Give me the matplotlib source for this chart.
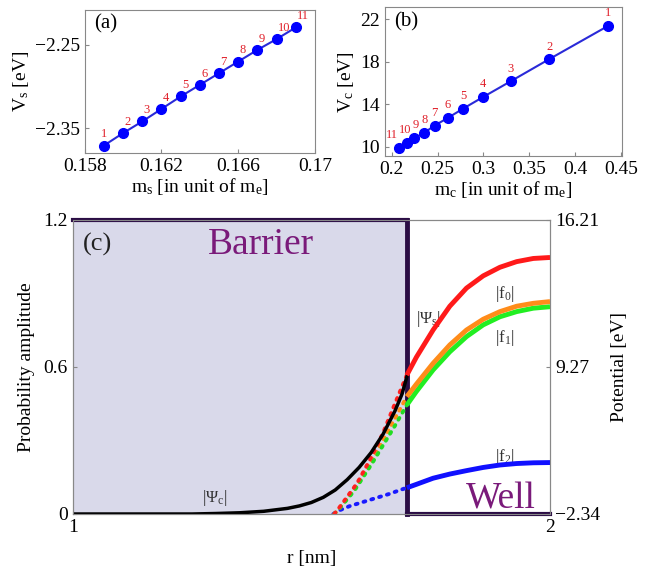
import numpy as np
import matplotlib
matplotlib.use('Agg')
import matplotlib.pyplot as plt

plt.rcParams['font.family'] = ['Liberation Serif', 'DejaVu Serif']
plt.rcParams['mathtext.fontset'] = 'custom'
plt.rcParams['mathtext.rm'] = 'Liberation Serif'
plt.rcParams['mathtext.it'] = 'Liberation Serif:italic'

# (a) surface potential vs m_s
ms = [0.159, 0.160, 0.161, 0.162, 0.163, 0.164, 0.165, 0.166, 0.167, 0.168, 0.169]
vs = [-2.371, -2.356, -2.342, -2.327, -2.312, -2.298, -2.284, -2.270, -2.256, -2.243, -2.229]

# (b) core potential vs m_c
mc = [0.4354, 0.3715, 0.3296, 0.2996, 0.2777, 0.2609, 0.2467, 0.2354, 0.2248, 0.2164, 0.2084]
vc = [21.37, 18.25, 16.17, 14.69, 13.59, 12.71, 12.00, 11.32, 10.82, 10.35, 9.91]
point_ids = [str(i) for i in range(1, 12)]

# (c) wavefunctions
r_core = [1.0, 1.25, 1.3, 1.35, 1.4, 1.45, 1.475, 1.5, 1.525, 1.55, 1.575,
          1.6, 1.625, 1.65, 1.675, 1.69, 1.7]
psi_c = [0.0, 0.0, 0.002, 0.005, 0.011, 0.023, 0.033, 0.047, 0.068, 0.098, 0.14,
         0.19, 0.25, 0.325, 0.42, 0.49, 0.56]

r_shell = [1.70, 1.72, 1.755, 1.79, 1.825, 1.86, 1.895, 1.93, 1.965, 2.0]
f0 = [0.567, 0.640, 0.751, 0.848, 0.922, 0.972, 1.007, 1.030, 1.043, 1.047]
f1 = [0.479, 0.530, 0.615, 0.690, 0.751, 0.795, 0.826, 0.848, 0.860, 0.867]
f1b = [0.445, 0.500, 0.588, 0.662, 0.724, 0.772, 0.805, 0.826, 0.840, 0.846]
f2 = [0.107, 0.121, 0.146, 0.163, 0.177, 0.190, 0.200, 0.206, 0.209, 0.210]

r_tail = [1.548, 1.56, 1.575, 1.59, 1.60, 1.625, 1.65, 1.675, 1.70]
f0_tail = [0.0, 0.03, 0.07, 0.11, 0.14, 0.23, 0.33, 0.45, 0.567]
f1_tail = [0.0, 0.027, 0.063, 0.10, 0.13, 0.21, 0.30, 0.39, 0.479]
f1b_tail = [0.0, 0.025, 0.06, 0.095, 0.125, 0.20, 0.28, 0.36, 0.445]
r_tail2 = [1.546, 1.56, 1.58, 1.60, 1.625, 1.645, 1.665, 1.686, 1.70]
f2_tail = [0.0, 0.016, 0.032, 0.044, 0.059, 0.071, 0.083, 0.098, 0.107]

r_edge = 1.7
pot_ticks = ['\u22122.34', '9.27', '16.21']

fig = plt.figure(figsize=(6.52, 5.72), dpi=100)
spine_c = '#888888'


def style(ax, size=14):
    for s in ax.spines.values():
        s.set_color(spine_c)
    ax.tick_params(direction='in', length=3, color=spine_c, labelsize=size)


# panel (a)
axa = fig.add_axes([0.130, 0.7325, 0.353, 0.25])
axa.plot(ms, vs, '-o', color='#2a2ad8', lw=1.5, ms=7, mfc='#0000ff', mec='#0000ff')
for x, y, t in zip(ms, vs, point_ids):
    axa.annotate(t, (x, y), xytext=(0 if t == '1' else 1, 6), textcoords='offset points',
                 color='#e0202a', fontsize=9, ha='center' if t == '1' else 'left')
axa.set_xlim(0.158, 0.17)
axa.set_ylim(-2.380, -2.208)
axa.set_xticks([0.158, 0.162, 0.166, 0.17])
axa.set_xticklabels(['0.158', '0.162', '0.166', '0.17'])
axa.set_yticks([-2.35, -2.25])
axa.set_yticklabels(['\u22122.35', '\u22122.25'])
axa.set_xlabel(r'm$_\mathrm{s}$ [in unit of m$_\mathrm{e}$]', fontsize=14, labelpad=1)
axa.set_ylabel(r'V$_\mathrm{s}$ [eV]', fontsize=14, labelpad=3)
axa.text(0.04, 0.97, '(a)', transform=axa.transAxes, fontsize=15, va='top')
style(axa)

# panel (b)
axb = fig.add_axes([0.5905, 0.727, 0.3635, 0.26])
axb.plot(mc, vc, '-o', color='#2a2ad8', lw=1.5, ms=7, mfc='#0000ff', mec='#0000ff')
shift = {'11': -1, '10': -1, '9': 1}
for x, y, t in zip(mc, vc, point_ids):
    ha = 'right' if t == '11' else 'center'
    axb.annotate(t, (x, y), xytext=(shift.get(t, 0), 7), textcoords='offset points',
                 color='#e0202a', fontsize=9, ha=ha)
axb.set_xlim(0.1927, 0.451)
axb.set_ylim(9.12, 23.13)
axb.set_xticks([0.2, 0.25, 0.3, 0.35, 0.4, 0.45])
axb.set_xticklabels(['0.2', '0.25', '0.3', '0.35', '0.4', '0.45'])
axb.set_yticks([10, 14, 18, 22])
axb.set_xlabel(r'm$_\mathrm{c}$ [in unit of m$_\mathrm{e}$]', fontsize=14, labelpad=1)
axb.set_ylabel(r'V$_\mathrm{c}$ [eV]', fontsize=14, labelpad=3)
axb.text(0.04, 0.97, '(b)', transform=axb.transAxes, fontsize=15, va='top')
style(axb)

# panel (c)
axc = fig.add_axes([0.1115, 0.1014, 0.7321, 0.514])
axc.axvspan(1.0, r_edge, color='#d9d9ea', lw=0, zorder=0)
pc = '#2b0d45'
axc.plot([1.0, r_edge], [1.2, 1.2], color=pc, lw=3, zorder=3, clip_on=False)
axc.plot([r_edge, r_edge], [0, 1.2], color=pc, lw=3.5, zorder=3, clip_on=False)
axc.plot([r_edge, 2.0], [0, 0], color=pc, lw=3, zorder=3, clip_on=False)

dot = dict(lw=2.8, ls=(0, (0.5, 1.6)), dash_capstyle='round', zorder=4)
axc.plot(r_tail2, f2_tail, color='#1a1aff', **dot)
axc.plot(r_tail, f1_tail, color='#ff8c1a', **dot)
axc.plot(r_tail, f1b_tail, color='#22dd22', **dot)
axc.plot(r_tail, f0_tail, color='#ff2020', **dot)
axc.plot(r_core, psi_c, color='black', lw=2.5, zorder=5)

solid = dict(lw=3.5, zorder=6, solid_capstyle='butt')
axc.plot(r_shell, f2, color='#1010ff', **solid)
axc.plot(r_shell, f1b, color='#22ee22', **solid)
axc.plot(r_shell, f1, color='#ff8c1a', **solid)
axc.plot(r_shell, f0, color='#ff1a1a', **solid)

axc.set_xlim(1, 2)
axc.set_ylim(0, 1.2)
axc.set_xticks([1, 2])
axc.set_yticks([0, 0.6, 1.2])
axc.set_yticklabels(['0', '0.6', '1.2'])
axc.set_xlabel('r [nm]', fontsize=14, labelpad=10)
axc.set_ylabel('Probability amplitude', fontsize=14, labelpad=6)
style(axc)

axr = axc.twinx()
axr.set_ylim(0, 1.2)
axr.set_yticks([0, 0.6, 1.2])
axr.set_yticklabels(pot_ticks)
axr.set_ylabel('Potential [eV]', fontsize=14, labelpad=8)
style(axr)

lab = '#333333'
axc.text(1.022, 1.10, '(c)', fontsize=19, va='center', color='#222222')
axc.text(1.395, 1.10, 'Barrier', fontsize=27, va='center', ha='center', color='#7a1a7a')
axc.text(1.897, 0.06, 'Well', fontsize=27, va='center', ha='center', color='#7a1a7a')
axc.text(1.27, 0.05, r'|$\Psi_\mathrm{c}$|', fontsize=12, color=lab)
axc.text(1.72, 0.78, r'|$\Psi_\mathrm{s}$|', fontsize=12, color=lab)
axc.text(1.885, 0.88, r'|f$_0$|', fontsize=12, color=lab)
axc.text(1.885, 0.70, r'|f$_1$|', fontsize=12, color=lab)
axc.text(1.885, 0.218, r'|f$_2$|', fontsize=12, color=lab)

fig.savefig('out.png', dpi=100)
